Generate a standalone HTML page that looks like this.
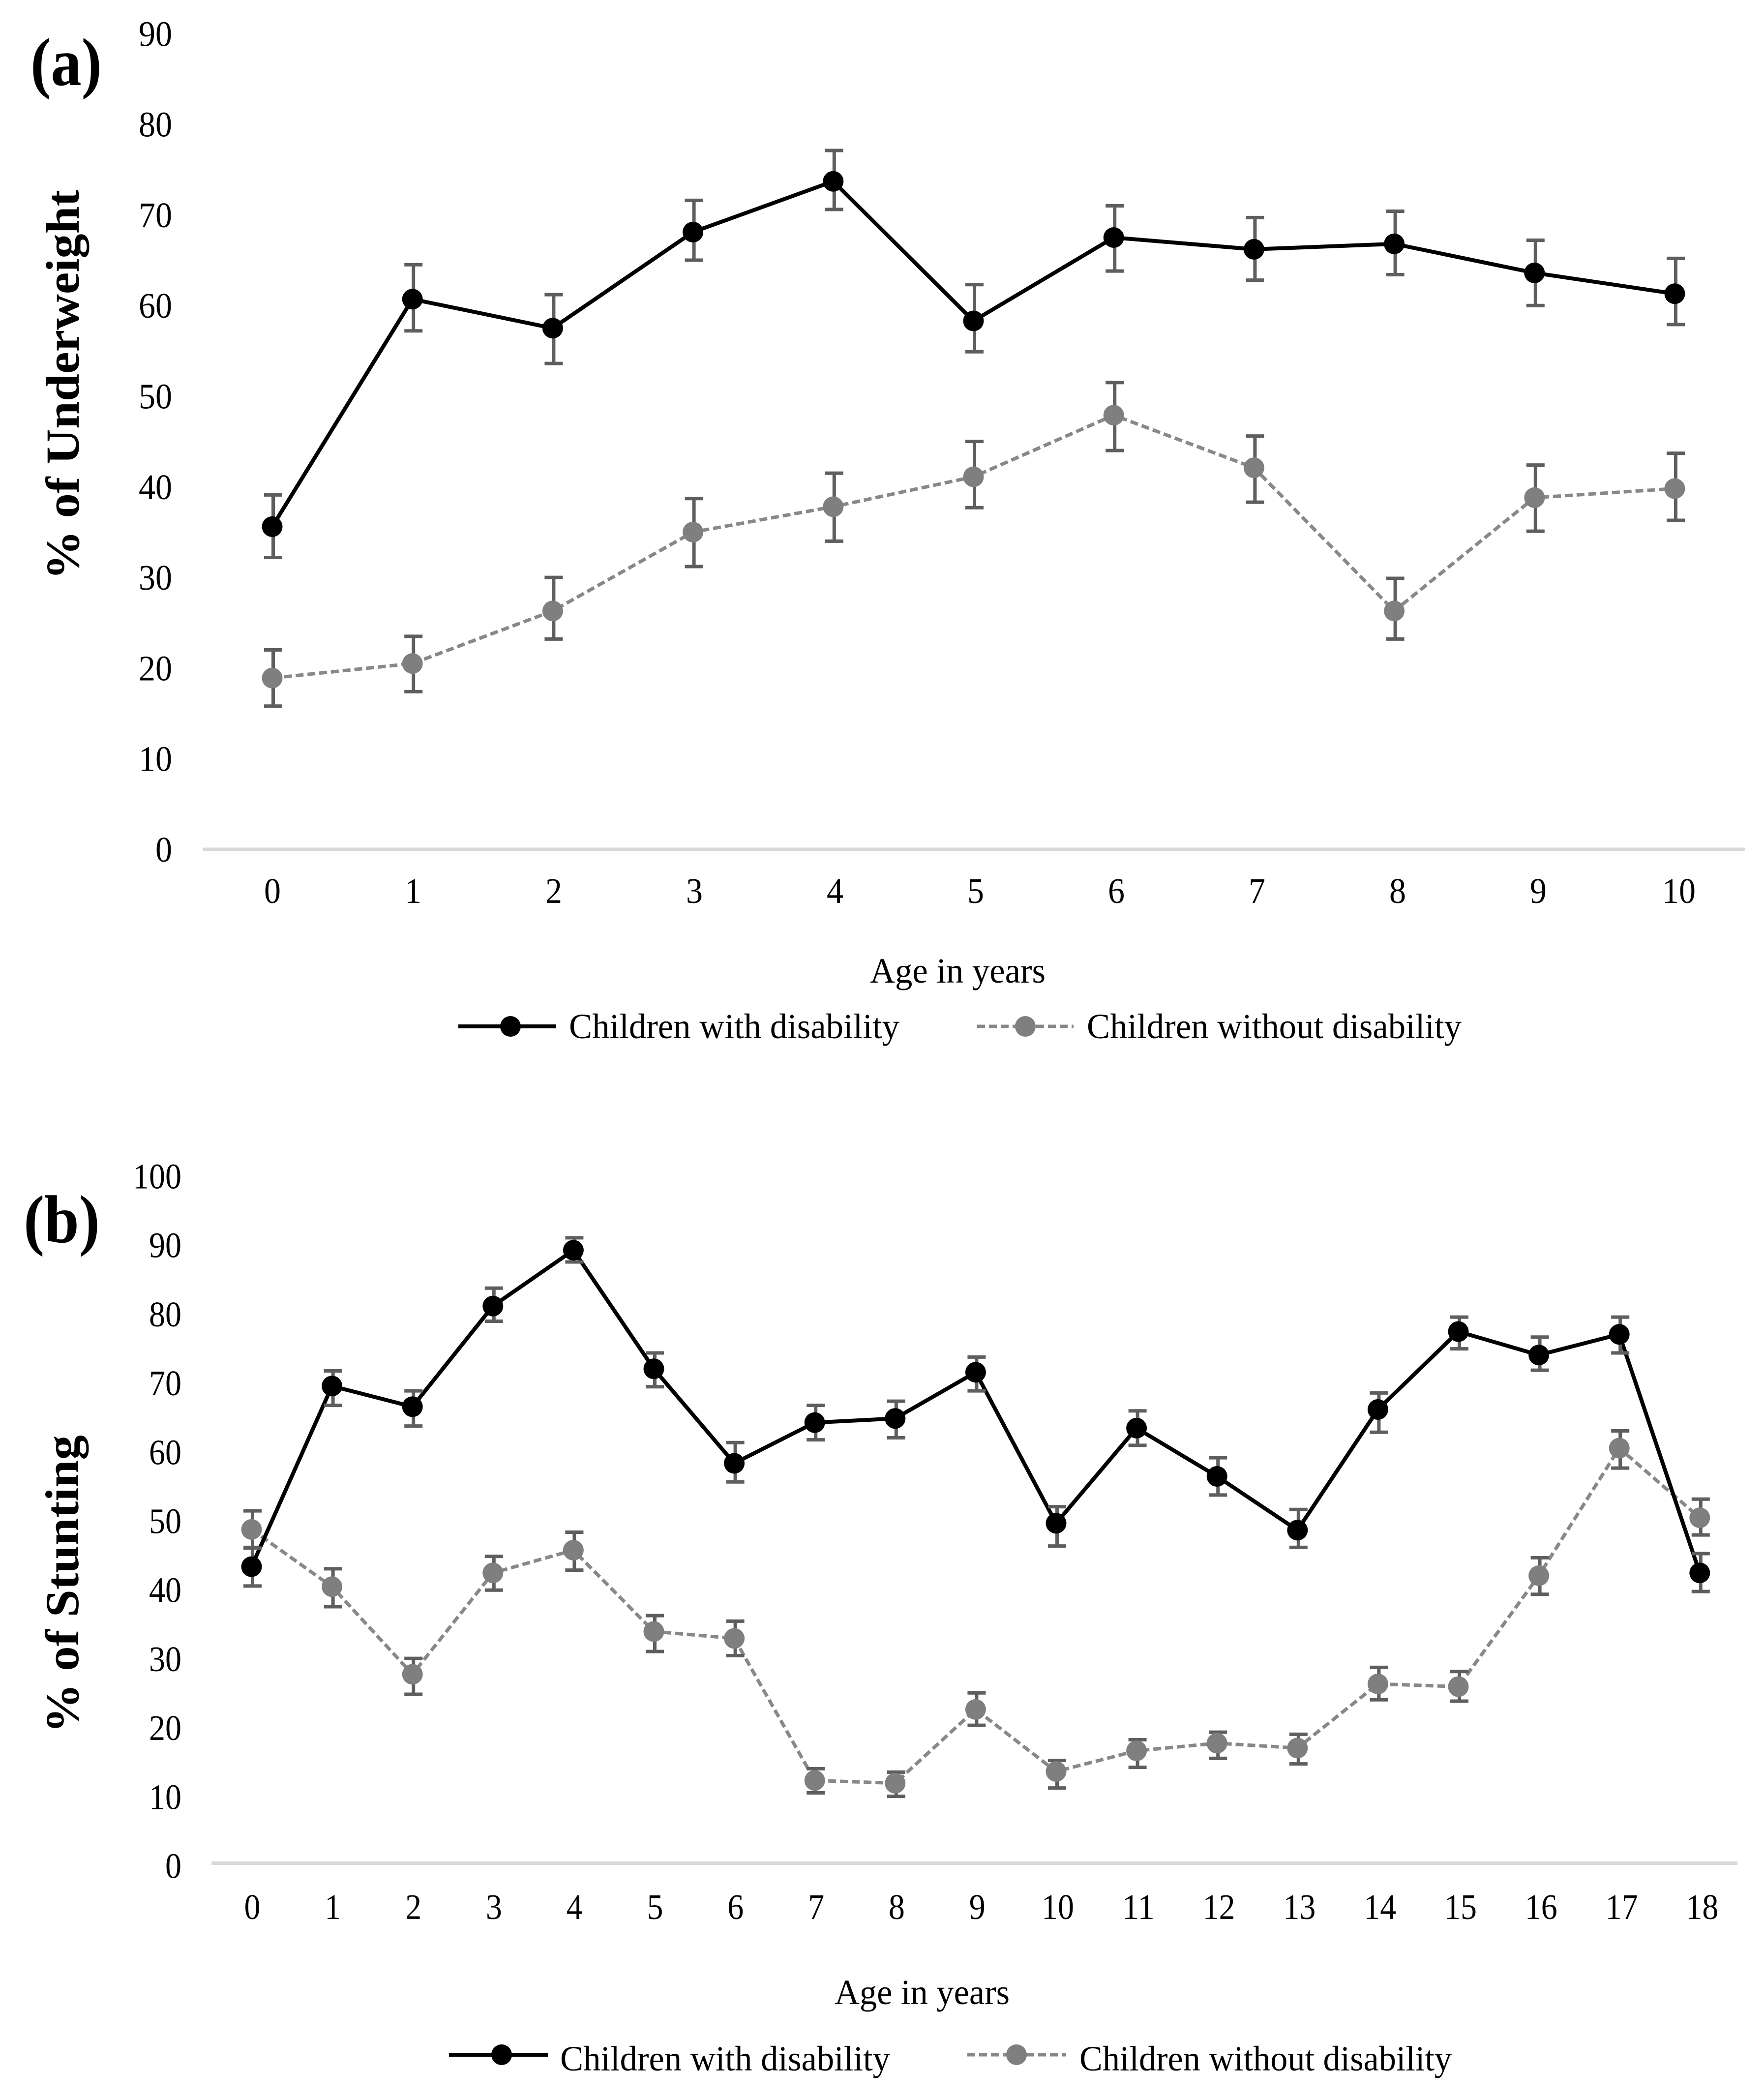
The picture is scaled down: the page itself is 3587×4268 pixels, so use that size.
<!DOCTYPE html>
<html lang="en">
<head>
<meta charset="utf-8">
<title>Underweight and stunting by age</title>
<style>
html,body{margin:0;padding:0;background:#fff;}
body{width:3587px;height:4268px;overflow:hidden;}
svg{display:block;}
text{font-family:"Liberation Serif",serif;fill:#000;}
</style>
</head>
<body>
<svg id="figure" xmlns="http://www.w3.org/2000/svg" width="3587" height="4268" viewBox="0 0 3587 4268">
  <rect width="3587" height="4268" fill="#fff"/>
  <g id="panel-a">
    <text x="62" y="173" font-size="138" font-weight="bold" textLength="145" lengthAdjust="spacingAndGlyphs">(a)</text>
    <text transform="translate(160,1179) rotate(-90)" font-size="96" font-weight="bold" textLength="793" lengthAdjust="spacingAndGlyphs">% of Underweight</text>
    <text x="1769" y="1998" font-size="72" textLength="357" lengthAdjust="spacingAndGlyphs">Age in years</text>
    <g>
      <line x1="932" x2="1131" y1="2087" y2="2087" stroke="#000" stroke-width="8"/>
      <circle cx="1038" cy="2087" r="21" fill="#000"/>
      <text x="1157" y="2111" font-size="72" textLength="672" lengthAdjust="spacingAndGlyphs">Children with disability</text>
      <line x1="1987" x2="2183" y1="2087" y2="2087" stroke="#888" stroke-width="7" stroke-dasharray="16 8"/>
      <circle cx="2085" cy="2087" r="21" fill="#7f7f7f"/>
      <text x="2210" y="2111" font-size="72" textLength="762" lengthAdjust="spacingAndGlyphs">Children without disability</text>
    </g>
  </g>
  <g id="panel-b">
    <text x="48" y="2526" font-size="138" font-weight="bold" textLength="155" lengthAdjust="spacingAndGlyphs">(b)</text>
    <text transform="translate(159,3524) rotate(-90)" font-size="96" font-weight="bold" textLength="606" lengthAdjust="spacingAndGlyphs">% of Stunting</text>
    <text x="1697" y="4075" font-size="72" textLength="356" lengthAdjust="spacingAndGlyphs">Age in years</text>
    <g>
      <line x1="913" x2="1114" y1="4178" y2="4178" stroke="#000" stroke-width="8"/>
      <circle cx="1020" cy="4178" r="21" fill="#000"/>
      <text x="1139" y="4210" font-size="72" textLength="671" lengthAdjust="spacingAndGlyphs">Children with disability</text>
      <line x1="1967" x2="2168" y1="4178" y2="4178" stroke="#888" stroke-width="7" stroke-dasharray="16 8"/>
      <circle cx="2067" cy="4178" r="21" fill="#7f7f7f"/>
      <text x="2195" y="4210" font-size="72" textLength="757" lengthAdjust="spacingAndGlyphs">Children without disability</text>
    </g>
  </g>
</svg>
<script>
// Panel (a): % underweight
const agesA = [0,1,2,3,4,5,6,7,8,9,10];
const yTicksA = [0,10,20,30,40,50,60,70,80,90];
const underweightWith = [35.6,60.7,57.5,68.1,73.7,58.3,67.5,66.2,66.8,63.6,61.3];
const underweightWithUpper = [39.1,64.5,61.2,71.6,77.1,62.3,71.0,69.7,70.4,67.2,65.2];
const underweightWithLower = [32.2,57.2,53.6,65.0,70.6,54.9,63.8,62.8,63.4,60.0,57.9];
const underweightWithout = [18.9,20.5,26.3,35.0,37.8,41.1,47.9,42.1,26.3,38.8,39.8];
const underweightWithoutUpper = [22.0,23.5,30.0,38.7,41.5,45.0,51.5,45.6,29.9,42.4,43.7];
const underweightWithoutLower = [15.8,17.4,23.2,31.2,34.0,37.7,44.0,38.3,23.2,35.1,36.3];

// Panel (b): % stunting
const agesB = [0,1,2,3,4,5,6,7,8,9,10,11,12,13,14,15,16,17,18];
const yTicksB = [0,10,20,30,40,50,60,70,80,90,100];
const stuntingWith = [43.0,69.2,66.2,80.8,88.9,71.7,58.0,63.9,64.5,71.2,49.3,63.1,56.1,48.3,65.8,77.1,73.7,76.7,42.1];
const stuntingWithUpper = [45.7,71.4,68.5,83.4,90.7,74.0,61.0,66.4,67.0,73.4,51.7,65.6,58.8,51.3,68.2,79.2,76.3,79.2,44.9];
const stuntingWithLower = [40.2,66.4,63.4,78.6,87.2,69.1,55.3,61.4,61.7,68.5,46.0,60.6,53.4,45.8,62.5,74.6,71.5,74.0,39.4];
const stuntingWithout = [48.4,40.1,27.4,42.1,45.4,33.6,32.6,12.0,11.6,22.3,13.3,16.3,17.4,16.7,26.0,25.6,41.7,60.2,50.1];
const stuntingWithoutUpper = [51.1,42.7,29.7,44.5,48.0,35.9,35.1,13.7,13.2,24.7,14.9,17.9,19.0,18.7,28.4,27.8,44.3,62.7,52.8];
const stuntingWithoutLower = [45.8,37.2,24.5,39.6,42.5,30.7,30.1,10.2,9.7,20.0,10.9,13.9,15.2,14.4,23.7,23.5,39.0,57.3,47.6];

const SVGNS = 'http://www.w3.org/2000/svg';

function make(tag, attrs, parent) {
  const el = document.createElementNS(SVGNS, tag);
  for (const k in attrs) el.setAttribute(k, attrs[k]);
  parent.appendChild(el);
  return el;
}

function drawSeries(parent, key, xs, yOf, vals, up, low, lineColor, markerColor, dash, width) {
  const group = make('g', {}, parent);
  
  

  const pts = vals.map((v, i) => xs(i) + ',' + yOf(v)).join(' ');
  const attrs = { points: pts, fill: 'none', stroke: lineColor, 'stroke-width': width, 'stroke-linejoin': 'round' };
  if (dash) attrs['stroke-dasharray'] = dash;
  const line = make('polyline', attrs, group);
  
  

  vals.forEach((v, i) => {
    const ex = xs(i) + 2;
    const capW = 18.5;
    const err = make('path', {
      d: 'M' + ex + ' ' + yOf(up[i]) + 'V' + yOf(low[i]) +
         'M' + (ex - capW) + ' ' + yOf(up[i]) + 'H' + (ex + capW) +
         'M' + (ex - capW) + ' ' + yOf(low[i]) + 'H' + (ex + capW),
      fill: 'none', stroke: '#5e5e5e', 'stroke-width': 7
    }, group);
    
    
  });

  vals.forEach((v, i) => {
    const dot = make('circle', { cx: xs(i), cy: yOf(v), r: 21, fill: markerColor }, group);
    
    
  });
}

function drawPanel(parent, prefix, cfg) {
  const x = i => cfg.x0 + cfg.dx * i;
  const y = v => cfg.y0 - cfg.pxPerUnit * v;
  const labelX = i => cfg.labelX0 + cfg.labelDx * i;

  const axis = make('line', { x1: cfg.axisLeft, x2: cfg.axisRight, y1: cfg.y0, y2: cfg.y0, stroke: '#d9d9d9', 'stroke-width': 7 }, parent);
  
  

  cfg.yTicks.forEach(t => {
    const s = String(t);
    const lab = make('text', {
      x: cfg.yLabelRight, y: y(t) + cfg.yLabelDy, 'text-anchor': 'end', 'font-size': 73,
      textLength: s.length * cfg.digitW, lengthAdjust: 'spacingAndGlyphs'
    }, parent);
    lab.textContent = s;
    
    
  });

  cfg.ages.forEach((a, i) => {
    const s = String(a);
    const lab = make('text', {
      x: labelX(i), y: cfg.xLabelY, 'text-anchor': 'middle', 'font-size': 73,
      textLength: s.length * cfg.digitW, lengthAdjust: 'spacingAndGlyphs'
    }, parent);
    lab.textContent = s;
    
    
  });

  drawSeries(parent, prefix + '-without-disability', x, y, cfg.without, cfg.withoutUp, cfg.withoutLow, '#888888', '#7f7f7f', '16 8', 7);
  drawSeries(parent, prefix + '-with-disability', x, y, cfg.withD, cfg.withUp, cfg.withLow, '#000000', '#000000', null, 8);
}

drawPanel(document.getElementById('panel-a'), 'a', {
  ages: agesA, yTicks: yTicksA,
  withD: underweightWith, withUp: underweightWithUpper, withLow: underweightWithLower,
  without: underweightWithout, withoutUp: underweightWithoutUpper, withoutLow: underweightWithoutLower,
  x0: 553.5, dx: 285.2, y0: 1727, pxPerUnit: 18.43,
  axisLeft: 412, axisRight: 3549,
  labelX0: 554, labelDx: 286,
  digitW: 34,
  yLabelRight: 350, yLabelDy: 25, xLabelY: 1836
});

drawPanel(document.getElementById('panel-b'), 'b', {
  ages: agesB, yTicks: yTicksB,
  withD: stuntingWith, withUp: stuntingWithUpper, withLow: stuntingWithLower,
  without: stuntingWithout, withoutUp: stuntingWithoutUpper, withoutLow: stuntingWithoutLower,
  x0: 511.5, dx: 163.6, y0: 3788.5, pxPerUnit: 14.02,
  axisLeft: 430, axisRight: 3533,
  labelX0: 513, labelDx: 163.8,
  digitW: 33,
  yLabelRight: 369, yLabelDy: 30, xLabelY: 3902
});
</script>
</body>
</html>
